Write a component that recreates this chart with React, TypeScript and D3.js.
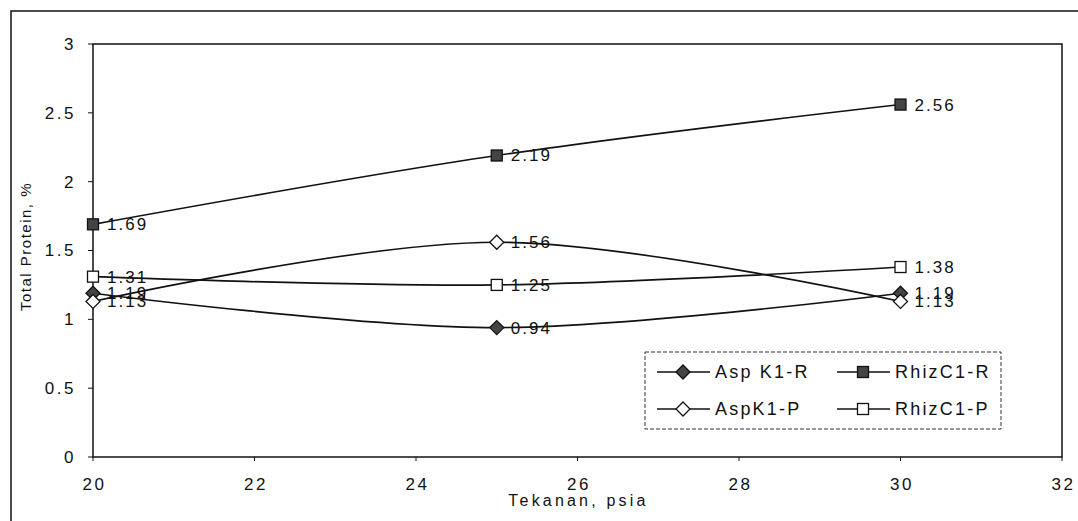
import React from "react";
import * as d3 from "d3";

const pressures = [20, 25, 30];
const aspK1R = [1.19, 0.94, 1.19];
const rhizC1R = [1.69, 2.19, 2.56];
const aspK1P = [1.13, 1.56, 1.13];
const rhizC1P = [1.31, 1.25, 1.38];
const seriesNames = ["Asp K1-R", "RhizC1-R", "AspK1-P", "RhizC1-P"];
const xTicks = [20, 22, 24, 26, 28, 30, 32];
const yTicks = [0, 0.5, 1, 1.5, 2, 2.5, 3];

const W = 1078, H = 521;
const L = 93, T = 44, R = 1062, B = 457;
const FONT = "'Liberation Sans', Arial, sans-serif";

type Marker = "diamondFilled" | "squareFilled" | "diamondOpen" | "squareOpen";
const series: { name: string; values: number[]; marker: Marker }[] = [
  { name: seriesNames[0], values: aspK1R, marker: "diamondFilled" },
  { name: seriesNames[1], values: rhizC1R, marker: "squareFilled" },
  { name: seriesNames[2], values: aspK1P, marker: "diamondOpen" },
  { name: seriesNames[3], values: rhizC1P, marker: "squareOpen" },
];

function MarkerShape({ type, x, y }: { type: Marker; x: number; y: number }) {
  const filled = type === "diamondFilled" || type === "squareFilled";
  const fill = filled ? "#444" : "#fff";
  if (type.startsWith("diamond")) {
    const s = 7;
    return (
      <path
        d={`M${x},${y - s}L${x + s},${y}L${x},${y + s}L${x - s},${y}Z`}
        fill={fill}
        stroke="#111"
        strokeWidth={1.3}
      />
    );
  }
  const s = 5.5;
  return <rect x={x - s} y={y - s} width={2 * s} height={2 * s} fill={fill} stroke="#111" strokeWidth={1.3} />;
}

export default function App() {
  const x = d3.scaleLinear().domain([20, 32]).range([L, R]);
  const y = d3.scaleLinear().domain([0, 3]).range([B, T]);
  const line = d3
    .line<number>()
    .x((_, i) => x(pressures[i]))
    .y((d) => y(d))
    .curve(d3.curveCatmullRom.alpha(0));

  const legendX = 645, legendY = 352, legendW = 356, legendH = 77;
  const legendItems = [
    { s: series[0], lx: 657, ly: 372 },
    { s: series[1], lx: 837, ly: 372 },
    { s: series[2], lx: 657, ly: 409 },
    { s: series[3], lx: 837, ly: 409 },
  ];

  return (
    <svg width={W} height={H} style={{ position: "absolute", left: 0, top: 0, background: "#fff" }} fontFamily={FONT}>
      <rect x={0} y={0} width={W} height={H} fill="#fff" />
      {/* outer frame */}
      <rect x={11} y={11} width={W + 20} height={H + 20} fill="none" stroke="#111" strokeWidth={1.5} />
      {/* plot area */}
      <rect x={L} y={T} width={R - L} height={B - T} fill="none" stroke="#111" strokeWidth={1.5} />
      {/* y ticks */}
      {yTicks.map((t) => (
        <g key={"y" + t}>
          <line x1={L - 5} x2={L} y1={y(t)} y2={y(t)} stroke="#111" strokeWidth={1} />
          <text x={L - 17} y={y(t)} dy="0.35em" textAnchor="end" fontSize={17} letterSpacing={2.5} fill="#111">
            {t}
          </text>
        </g>
      ))}
      {/* x ticks */}
      {xTicks.map((t) => (
        <g key={"x" + t}>
          <line x1={x(t)} x2={x(t)} y1={B} y2={B + 4} stroke="#111" strokeWidth={1} />
          <text x={x(t) + 1.5} y={B + 33} textAnchor="middle" fontSize={17} letterSpacing={2.5} fill="#111">
            {t}
          </text>
        </g>
      ))}
      <text x={(L + R) / 2 + 1} y={506} textAnchor="middle" fontSize={16} letterSpacing={3.2} fill="#111">
        Tekanan, psia
      </text>
      <text
        transform={`translate(31,${(T + B) / 2 - 4}) rotate(-90)`}
        textAnchor="middle"
        fontSize={15}
        letterSpacing={1.5}
        fill="#111"
      >
        Total Protein, %
      </text>
      {/* series */}
      {series.map((s) => (
        <g key={s.name}>
          <path d={line(s.values) || ""} fill="none" stroke="#111" strokeWidth={1.6} />
          {s.values.map((v, i) => (
            <MarkerShape key={i} type={s.marker} x={x(pressures[i])} y={y(v)} />
          ))}
          {s.values.map((v, i) => (
            <text
              key={"l" + i}
              x={x(pressures[i]) + 14}
              y={y(v)}
              dy="0.35em"
              fontSize={17}
              letterSpacing={2}
              fill="#111"
            >
              {v.toFixed(2)}
            </text>
          ))}
        </g>
      ))}
      {/* legend */}
      <rect
        x={legendX}
        y={legendY}
        width={legendW}
        height={legendH}
        fill="#fff"
        stroke="#333"
        strokeWidth={1}
        strokeDasharray="4,2"
      />
      {legendItems.map(({ s, lx, ly }) => (
        <g key={"lg" + s.name}>
          <line x1={lx} x2={lx + 53} y1={ly} y2={ly} stroke="#111" strokeWidth={1.6} />
          <MarkerShape type={s.marker} x={lx + 26} y={ly} />
          <text x={lx + 58} y={ly} dy="0.35em" fontSize={18} letterSpacing={2.2} fill="#111">
            {s.name}
          </text>
        </g>
      ))}
    </svg>
  );
}
